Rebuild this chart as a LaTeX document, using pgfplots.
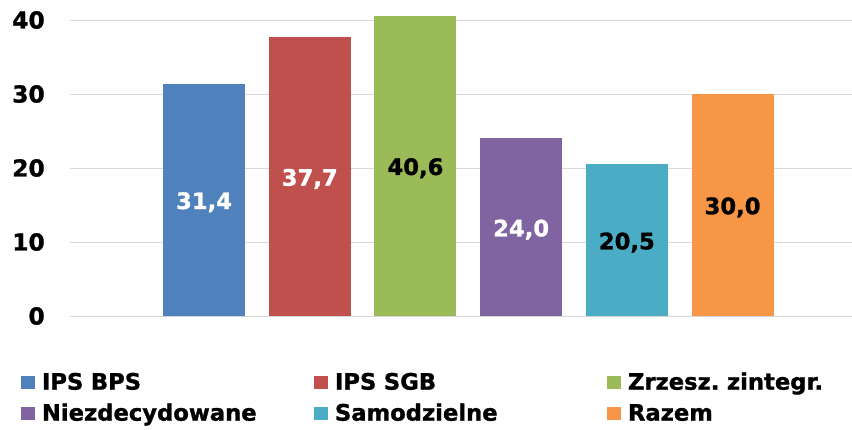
\documentclass[border=0pt]{standalone}
\usepackage{fontspec}
\setmainfont{DejaVu Sans}[BoldFeatures={FakeBold=1.2}]
\usepackage{pgfplots}
\pgfplotsset{compat=1.18}

\definecolor{cBPS}{HTML}{4F81BD}
\definecolor{cSGB}{HTML}{C0504D}
\definecolor{cZrz}{HTML}{9BBB59}
\definecolor{cNie}{HTML}{8064A2}
\definecolor{cSam}{HTML}{4BACC6}
\definecolor{cRaz}{HTML}{F79646}
\definecolor{gridgray}{HTML}{D9D9D9}

\pgfplotsset{
  onebar/.style={
    ybar, bar shift=0pt, bar width=0.776, draw=none, fill=#1,
    legend image code/.code={\path[fill=#1] (0pt,-3.75pt) rectangle (10.5pt,6pt);},
  },
  barlabel/.style={
    nodes near coords={\pgfmathprintnumber[fixed, fixed zerofill, precision=1, use comma]{\pgfplotspointmeta}},
    visualization depends on={-0.5*rawy \as \negh},
    every node near coord/.append style={anchor=center, text=#1,
      font=\fontsize{17}{20}\selectfont\bfseries,
      shift={(axis direction cs:0,\negh)}, yshift=-1.8pt},
  },
}

\begin{document}
\begin{tikzpicture}
\useasboundingbox (0,0) rectangle (639pt,321.75pt);
\begin{axis}[
    at={(52.5pt,84.75pt)}, anchor=south west,
    scale only axis,
    width=586.5pt, height=233.1pt,
    xmin=-1.268, xmax=6.13,
    ymin=0, ymax=42,
    ytick={0,10,20,30,40},
    xtick=\empty,
    axis line style={draw=none},
    major tick length=0pt,
    ymajorgrids,
    grid style={color=gridgray, line width=0.75pt},
    /pgf/number format/assume math mode=true,
    yticklabel style={anchor=east, inner sep=0pt, xshift=-18.75pt,
      font=\fontsize{17.5}{20}\selectfont\bfseries},
    legend columns=3,
    legend cell align=left,
    legend style={
      at={(axis description cs:-0.0627,-0.1834)}, anchor=north west,
      draw=none, fill=none, inner sep=0pt, outer sep=0pt,
      row sep=7.25pt,
      font=\fontsize{17}{20}\selectfont\bfseries,
      nodes={inner sep=0pt, text width=204pt, align=left, text height=12.5pt, text depth=3.5pt},
      /tikz/every odd column/.append style={column sep=5.25pt},
    },
]
\addplot[onebar=cBPS, barlabel=white] coordinates {(0,31.4)};
\addlegendentry{IPS BPS}
\addplot[onebar=cSGB, barlabel=white] coordinates {(1,37.7)};
\addlegendentry{IPS SGB}
\addplot[onebar=cZrz, barlabel=black] coordinates {(2,40.6)};
\addlegendentry{Zrzesz.\ zintegr.}
\addplot[onebar=cNie, barlabel=white] coordinates {(3,24.0)};
\addlegendentry{Niezdecydowane}
\addplot[onebar=cSam, barlabel=black] coordinates {(4,20.5)};
\addlegendentry{Samodzielne}
\addplot[onebar=cRaz, barlabel=black] coordinates {(5,30.0)};
\addlegendentry{Razem}
\end{axis}
\end{tikzpicture}
\end{document}
